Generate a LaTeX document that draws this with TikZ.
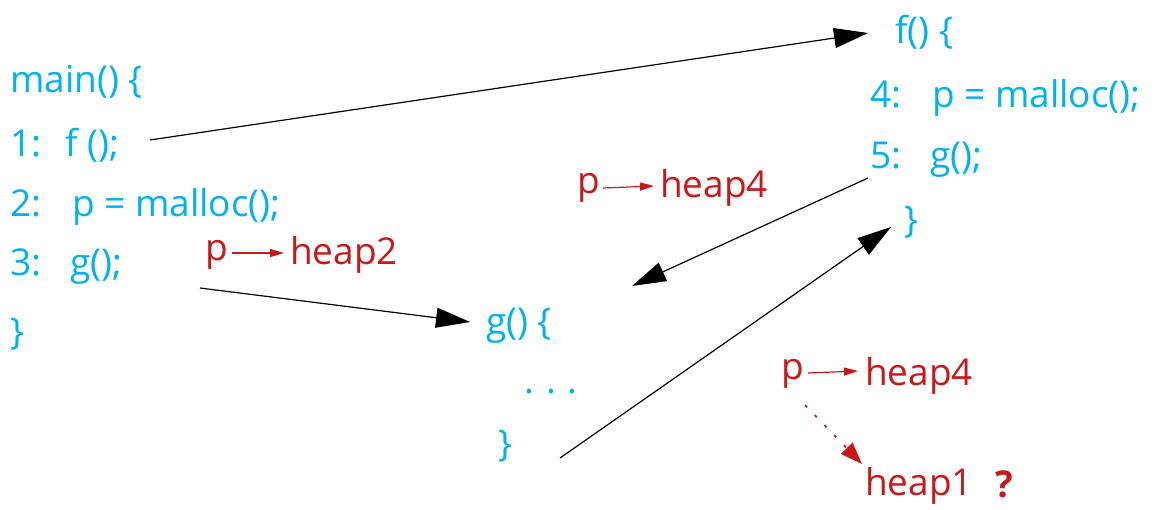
\documentclass[tikz,border=0pt]{standalone}
\usepackage{fontspec}
\setmainfont{Open Sans}
\usetikzlibrary{arrows.meta}
\definecolor{codeblue}{RGB}{0,176,240}
\definecolor{ptred}{RGB}{200,24,24}
\begin{document}
\begin{tikzpicture}[x=1pt,y=-1pt,
  code/.style={anchor=west,inner sep=0pt,text=codeblue,font=\fontsize{37}{40}\selectfont},
  pts/.style={anchor=west,inner sep=0pt,text=ptred,font=\fontsize{37}{40}\selectfont},
  call/.style={draw=black,line width=1.2pt,-{Triangle[length=34pt,width=20pt]}},
  ptarrow/.style={draw=ptred,line width=1.2pt,-{Triangle[length=14pt,width=8pt]}}]
\useasboundingbox (0,0) rectangle (1155,509);
% main
\node[code] (mainh) at (10,82) {main() \{};
\node[code] (m1) at (10,145) {\makebox[55pt][l]{1:}f ();};
\node[code] (m2) at (10,207) {\makebox[62pt][l]{2:}p = malloc();};
\node[code] (m3) at (10,267) {\makebox[60pt][l]{3:}g();};
\node[code] (mend) at (10,334) {\}};
% f
\node[code] (fh) at (895,32) {f() \{};
\node[code] (f4) at (870,98) {\makebox[62pt][l]{4:}p = malloc();};
\node[code] (f5) at (870,160) {\makebox[60pt][l]{5:}g();};
\node[code] (fend) at (904,222) {\}};
% g
\node[code] (gh) at (486,326) {g() \{};
\node[code] (gdots) at (524,392) {.\hspace{12pt}.\hspace{12pt}.};
\node[code] (gend) at (498,446) {\}};
% points-to
\node[pts] (p2) at (205,255) {p};
\node[pts] (h2) at (290,255) {heap2};
\coordinate (p2a) at (232,253);
\coordinate (p2b) at (284,253);
\draw[ptarrow] (p2a) -- (p2b);
\node[pts] (p4) at (577,188) {p};
\node[pts] (h4) at (660,188) {heap4};
\coordinate (p4a) at (603,188);
\coordinate (p4b) at (654,186);
\draw[ptarrow] (p4a) -- (p4b);
\node[pts] (p5) at (781,374) {p};
\node[pts] (h5) at (865,376) {heap4};
\coordinate (p5a) at (808,373);
\coordinate (p5b) at (858,371);
\draw[ptarrow] (p5a) -- (p5b);
\node[pts] (h1) at (865,486) {heap1};
\node[pts,anchor=base west,font=\fontsize{37}{40}\selectfont\bfseries] (q) at (995,497) {?};
\coordinate (ds) at (805,405);
\coordinate (de) at (862,464);
\draw[draw=ptred,line width=1.8pt,dash pattern=on 3pt off 11pt,-{Triangle[length=22pt,width=16pt]}] (ds) -- (de);
% calls
\coordinate (c1s) at (150,140);
\coordinate (c1e) at (868,33);
\draw[call] (c1s) -- (c1e);
\coordinate (c2s) at (200,288);
\coordinate (c2e) at (470,322);
\draw[call] (c2s) -- (c2e);
\coordinate (c3s) at (868,178);
\coordinate (c3e) at (632,286);
\draw[call] (c3s) -- (c3e);
\coordinate (c4s) at (560,458);
\coordinate (c4e) at (891,227);
\draw[call] (c4s) -- (c4e);
\end{tikzpicture}
\end{document}
